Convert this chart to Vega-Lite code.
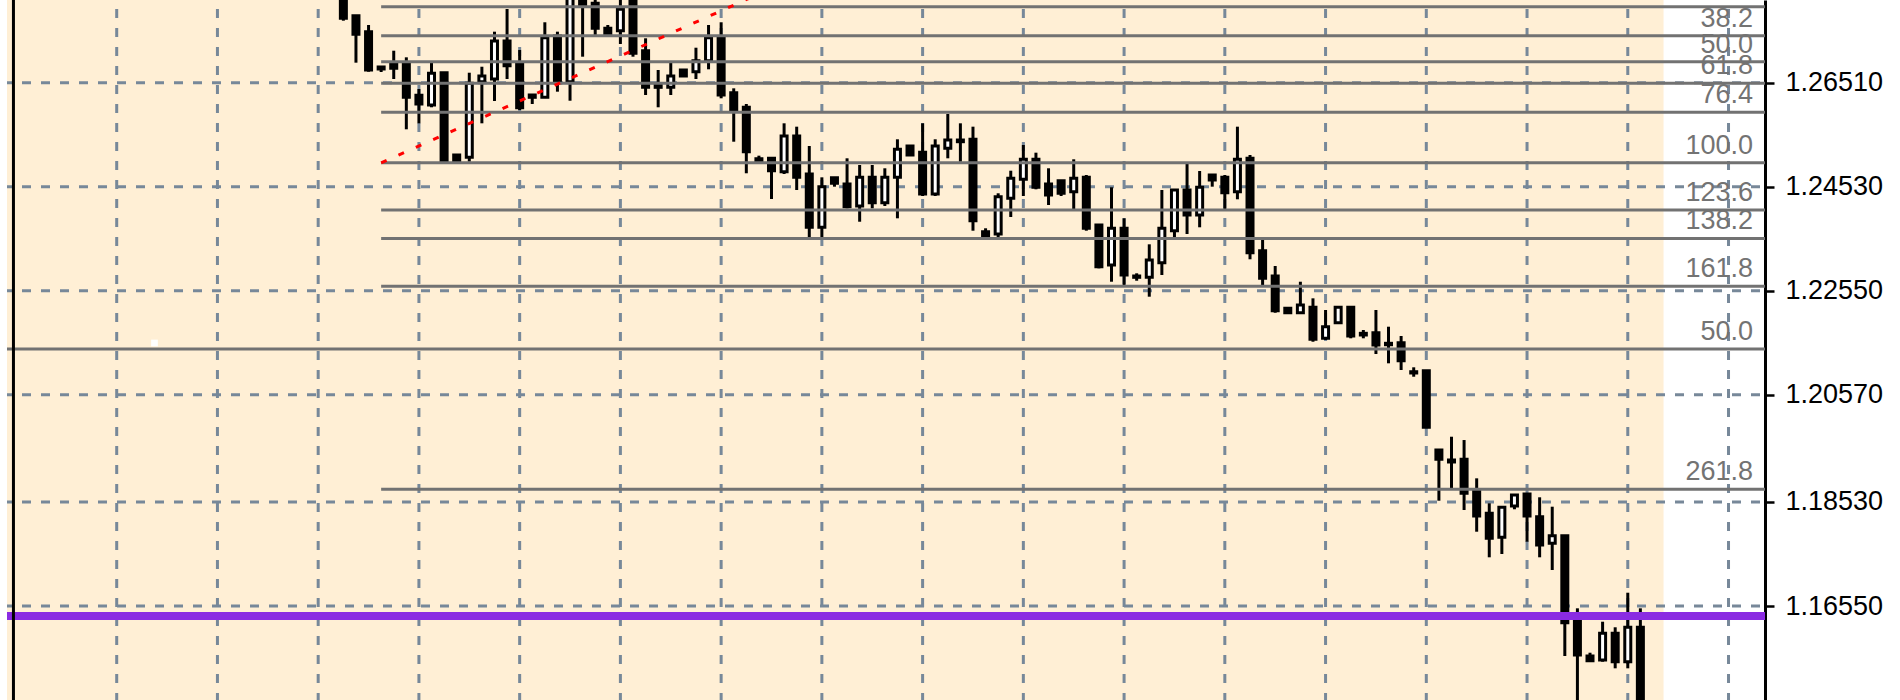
{
  "$schema": "https://vega.github.io/schema/vega-lite/v6.json",
  "width": 1758,
  "height": 700,
  "autosize": {"type": "none"},
  "padding": {"left": 7, "right": 135, "top": 0, "bottom": 0},
  "background": "white",
  "config": {
    "view": {"stroke": null},
    "axis": {"grid": false, "domainColor": "black", "domainWidth": 3, "tickColor": "black", "tickWidth": 2.5, "tickSize": 9,
      "labelFont": "Liberation Sans", "labelFontSize": 27, "labelColor": "black", "labelPadding": 11,
      "labelOverlap": false, "labelBound": false, "labelFlush": false}
  },
  "datasets": {
    "candles": [
      {"t":18,"o":1.28465,"h":1.28560,"l":1.27690,"c":1.27736},
      {"t":19,"o":1.27785,"h":1.27785,"l":1.26891,"c":1.27431},
      {"t":20,"o":1.27481,"h":1.27608,"l":1.26719,"c":1.26752},
      {"t":21,"o":1.26809,"h":1.26814,"l":1.26714,"c":1.26771},
      {"t":22,"o":1.26891,"h":1.27119,"l":1.26580,"c":1.26784},
      {"t":23,"o":1.26891,"h":1.26993,"l":1.25623,"c":1.26232},
      {"t":24,"o":1.26270,"h":1.26390,"l":1.25737,"c":1.26105},
      {"t":25,"o":1.26086,"h":1.26891,"l":1.26042,"c":1.26689},
      {"t":26,"o":1.26700,"h":1.26714,"l":1.25001,"c":1.25006},
      {"t":27,"o":1.25134,"h":1.25134,"l":1.25006,"c":1.25006},
      {"t":28,"o":1.25090,"h":1.26700,"l":1.25006,"c":1.26499},
      {"t":29,"o":1.26529,"h":1.26814,"l":1.25737,"c":1.26637},
      {"t":30,"o":1.26580,"h":1.27481,"l":1.26162,"c":1.27304},
      {"t":31,"o":1.27304,"h":1.27913,"l":1.26580,"c":1.26834},
      {"t":32,"o":1.26879,"h":1.27132,"l":1.25990,"c":1.26034},
      {"t":33,"o":1.26276,"h":1.26276,"l":1.26105,"c":1.26232},
      {"t":34,"o":1.26232,"h":1.27660,"l":1.26232,"c":1.27366},
      {"t":35,"o":1.27399,"h":1.27481,"l":1.26339,"c":1.26510},
      {"t":36,"o":1.26529,"h":1.28655,"l":1.26167,"c":1.28465},
      {"t":37,"o":1.28465,"h":1.28560,"l":1.27005,"c":1.27989},
      {"t":38,"o":1.28021,"h":1.28122,"l":1.27418,"c":1.27545},
      {"t":39,"o":1.27545,"h":1.27608,"l":1.27418,"c":1.27418},
      {"t":40,"o":1.27500,"h":1.28122,"l":1.27247,"c":1.27907},
      {"t":41,"o":1.28274,"h":1.28370,"l":1.27005,"c":1.27070},
      {"t":42,"o":1.27119,"h":1.27355,"l":1.26276,"c":1.26422},
      {"t":43,"o":1.26466,"h":1.26752,"l":1.26042,"c":1.26422},
      {"t":44,"o":1.26422,"h":1.26891,"l":1.26276,"c":1.26637},
      {"t":45,"o":1.26752,"h":1.26752,"l":1.26637,"c":1.26637},
      {"t":46,"o":1.26719,"h":1.27176,"l":1.26580,"c":1.26929},
      {"t":47,"o":1.26929,"h":1.27608,"l":1.26765,"c":1.27366},
      {"t":48,"o":1.27366,"h":1.27660,"l":1.26213,"c":1.26276},
      {"t":49,"o":1.26320,"h":1.26403,"l":1.25387,"c":1.25990},
      {"t":50,"o":1.26042,"h":1.26105,"l":1.24786,"c":1.25197},
      {"t":51,"o":1.25063,"h":1.25121,"l":1.25014,"c":1.25014},
      {"t":52,"o":1.25071,"h":1.25071,"l":1.24296,"c":1.24835},
      {"t":53,"o":1.24816,"h":1.25737,"l":1.24772,"c":1.25496},
      {"t":54,"o":1.25496,"h":1.25673,"l":1.24468,"c":1.24709},
      {"t":55,"o":1.24772,"h":1.25305,"l":1.23548,"c":1.23758},
      {"t":56,"o":1.23758,"h":1.24709,"l":1.23548,"c":1.24531},
      {"t":57,"o":1.24702,"h":1.24702,"l":1.24531,"c":1.24595},
      {"t":58,"o":1.24582,"h":1.25071,"l":1.24119,"c":1.24150},
      {"t":59,"o":1.24163,"h":1.24944,"l":1.23864,"c":1.24709},
      {"t":60,"o":1.24709,"h":1.24944,"l":1.24119,"c":1.24226},
      {"t":61,"o":1.24226,"h":1.24881,"l":1.24163,"c":1.24709},
      {"t":62,"o":1.24709,"h":1.25433,"l":1.23929,"c":1.25242},
      {"t":63,"o":1.25305,"h":1.25305,"l":1.25134,"c":1.25134},
      {"t":64,"o":1.25185,"h":1.25737,"l":1.24354,"c":1.24392},
      {"t":65,"o":1.24392,"h":1.25433,"l":1.24354,"c":1.25305},
      {"t":66,"o":1.25261,"h":1.25914,"l":1.25071,"c":1.25419},
      {"t":67,"o":1.25419,"h":1.25737,"l":1.25006,"c":1.25387},
      {"t":68,"o":1.25433,"h":1.25673,"l":1.23693,"c":1.23883},
      {"t":69,"o":1.23674,"h":1.23739,"l":1.23567,"c":1.23567},
      {"t":70,"o":1.23630,"h":1.24405,"l":1.23567,"c":1.24340},
      {"t":71,"o":1.24310,"h":1.24835,"l":1.23954,"c":1.24690},
      {"t":72,"o":1.24671,"h":1.25324,"l":1.24354,"c":1.25052},
      {"t":73,"o":1.25052,"h":1.25178,"l":1.24481,"c":1.24519},
      {"t":74,"o":1.24582,"h":1.24881,"l":1.24182,"c":1.24373},
      {"t":75,"o":1.24645,"h":1.24645,"l":1.24354,"c":1.24405},
      {"t":76,"o":1.24435,"h":1.25052,"l":1.24100,"c":1.24690},
      {"t":77,"o":1.24709,"h":1.24753,"l":1.23693,"c":1.23739},
      {"t":78,"o":1.23802,"h":1.23802,"l":1.22977,"c":1.23008},
      {"t":79,"o":1.23040,"h":1.24519,"l":1.22722,"c":1.23739},
      {"t":80,"o":1.23739,"h":1.23929,"l":1.22660,"c":1.22850},
      {"t":81,"o":1.22831,"h":1.22882,"l":1.22741,"c":1.22806},
      {"t":82,"o":1.22806,"h":1.23434,"l":1.22437,"c":1.23135},
      {"t":83,"o":1.23084,"h":1.24468,"l":1.22850,"c":1.23739},
      {"t":84,"o":1.23693,"h":1.24468,"l":1.23567,"c":1.24468},
      {"t":85,"o":1.24468,"h":1.24963,"l":1.23630,"c":1.23992},
      {"t":86,"o":1.23992,"h":1.24829,"l":1.23758,"c":1.24519},
      {"t":87,"o":1.24753,"h":1.24753,"l":1.24531,"c":1.24658},
      {"t":88,"o":1.24709,"h":1.24753,"l":1.24100,"c":1.24416},
      {"t":89,"o":1.24435,"h":1.25673,"l":1.24291,"c":1.25052},
      {"t":90,"o":1.25071,"h":1.25134,"l":1.23149,"c":1.23274},
      {"t":91,"o":1.23312,"h":1.23516,"l":1.22660,"c":1.22787},
      {"t":92,"o":1.22831,"h":1.23021,"l":1.22132,"c":1.22170},
      {"t":93,"o":1.22216,"h":1.22216,"l":1.22132,"c":1.22132},
      {"t":94,"o":1.22132,"h":1.22722,"l":1.22132,"c":1.22279},
      {"t":95,"o":1.22235,"h":1.22406,"l":1.21580,"c":1.21626},
      {"t":96,"o":1.21645,"h":1.22184,"l":1.21613,"c":1.21866},
      {"t":97,"o":1.21942,"h":1.22235,"l":1.21942,"c":1.22235},
      {"t":98,"o":1.22235,"h":1.22235,"l":1.21645,"c":1.21689},
      {"t":99,"o":1.21740,"h":1.21803,"l":1.21645,"c":1.21708},
      {"t":100,"o":1.21752,"h":1.22184,"l":1.21346,"c":1.21518},
      {"t":101,"o":1.21550,"h":1.21866,"l":1.21169,"c":1.21523},
      {"t":102,"o":1.21561,"h":1.21689,"l":1.21042,"c":1.21219},
      {"t":103,"o":1.21009,"h":1.21093,"l":1.20914,"c":1.20985},
      {"t":104,"o":1.21028,"h":1.21028,"l":1.19951,"c":1.19951},
      {"t":105,"o":1.19519,"h":1.19519,"l":1.18554,"c":1.19342},
      {"t":106,"o":1.19329,"h":1.19772,"l":1.18790,"c":1.19291},
      {"t":107,"o":1.19342,"h":1.19709,"l":1.18377,"c":1.18695},
      {"t":108,"o":1.18745,"h":1.18980,"l":1.17964,"c":1.18263},
      {"t":109,"o":1.18314,"h":1.18505,"l":1.17477,"c":1.17839},
      {"t":110,"o":1.17858,"h":1.18429,"l":1.17540,"c":1.18429},
      {"t":111,"o":1.18453,"h":1.18663,"l":1.18391,"c":1.18663},
      {"t":112,"o":1.18682,"h":1.18682,"l":1.17774,"c":1.18263},
      {"t":113,"o":1.18250,"h":1.18619,"l":1.17477,"c":1.17711},
      {"t":114,"o":1.17743,"h":1.18440,"l":1.17235,"c":1.17888},
      {"t":115,"o":1.17888,"h":1.17888,"l":1.15598,"c":1.16232},
      {"t":116,"o":1.16270,"h":1.16506,"l":1.14000,"c":1.15617},
      {"t":117,"o":1.15598,"h":1.15661,"l":1.15509,"c":1.15509},
      {"t":118,"o":1.15522,"h":1.16251,"l":1.15490,"c":1.16030},
      {"t":119,"o":1.16030,"h":1.16145,"l":1.15364,"c":1.15490},
      {"t":120,"o":1.15490,"h":1.16803,"l":1.15364,"c":1.16145},
      {"t":121,"o":1.16145,"h":1.16506,"l":1.13619,"c":1.14000}
    ],
    "hgrid": [{"p":1.2651},{"p":1.2453},{"p":1.2255},{"p":1.2057},{"p":1.1853},{"p":1.1655}],
    "vgrid": [{"t":0},{"t":8},{"t":16},{"t":24},{"t":32},{"t":40},{"t":48},{"t":56},{"t":64},{"t":72},{"t":80},{"t":88},{"t":96},{"t":104},{"t":112},{"t":120},{"t":128}],
    "fibo": [
      {"label":"23.6","p":1.27956,"from":21},
      {"label":"38.2","p":1.27405,"from":21},
      {"label":"50.0","p":1.26910,"from":21},
      {"label":"61.8","p":1.26499,"from":21},
      {"label":"76.4","p":1.25947,"from":21},
      {"label":"100.0","p":1.24985,"from":21},
      {"label":"123.6","p":1.24087,"from":21},
      {"label":"138.2","p":1.23545,"from":21},
      {"label":"161.8","p":1.22635,"from":21},
      {"label":"261.8","p":1.18773,"from":21},
      {"label":"50.0","p":1.21441,"from":-10}
    ]
  },
  "layer": [
    {
      "data": {"values": [{"t0": -10, "t1": 122.84, "p0": 1.14, "p1": 1.29}]},
      "mark": {"type": "rect", "fill": "#FFEFD5", "clip": true},
      "encoding": {
        "x": {"field": "t0", "type": "quantitative", "scale": {"domain": [-8.315, 130.5], "nice": false, "zero": false}, "axis": null},
        "x2": {"field": "t1"},
        "y": {"field": "p0", "type": "quantitative", "scale": {"domain": [1.14761, 1.28084], "nice": false, "zero": false},
          "axis": {"orient": "right", "values": [1.2651, 1.2453, 1.2255, 1.2057, 1.1853, 1.1655, 1.1457], "format": ".5f", "title": null}},
        "y2": {"field": "p1"}
      }
    },
    {
      "data": {"name": "hgrid"},
      "mark": {"type": "rule", "color": "#778899", "strokeWidth": 3, "strokeDash": [9, 10], "strokeDashOffset": 14},
      "encoding": {
        "y": {"field": "p", "type": "quantitative", "scale": {"domain": [1.14761, 1.28084], "nice": false, "zero": false},
          "axis": {"orient": "right", "values": [1.2651, 1.2453, 1.2255, 1.2057, 1.1853, 1.1655, 1.1457], "format": ".5f", "title": null}}
      }
    },
    {
      "data": {"name": "vgrid"},
      "mark": {"type": "rule", "color": "#778899", "strokeWidth": 3, "strokeDash": [9, 10], "strokeDashOffset": 10},
      "encoding": {
        "x": {"field": "t", "type": "quantitative", "scale": {"domain": [-8.315, 130.5], "nice": false, "zero": false}, "axis": null}
      }
    },
    {
      "data": {"name": "candles"},
      "mark": {"type": "rule", "color": "black", "strokeWidth": 3, "clip": true},
      "encoding": {
        "x": {"field": "t", "type": "quantitative", "scale": {"domain": [-8.315, 130.5], "nice": false, "zero": false}, "axis": null},
        "y": {"field": "l", "type": "quantitative", "scale": {"domain": [1.14761, 1.28084], "nice": false, "zero": false},
          "axis": {"orient": "right", "values": [1.2651, 1.2453, 1.2255, 1.2057, 1.1853, 1.1655, 1.1457], "format": ".5f", "title": null}},
        "y2": {"field": "h"}
      }
    },
    {
      "data": {"name": "candles"},
      "mark": {"type": "bar", "size": 6, "stroke": "black", "strokeWidth": 3, "clip": true, "orient": "vertical"},
      "encoding": {
        "x": {"field": "t", "type": "quantitative", "scale": {"domain": [-8.315, 130.5], "nice": false, "zero": false}, "axis": null},
        "y": {"field": "o", "type": "quantitative", "scale": {"domain": [1.14761, 1.28084], "nice": false, "zero": false},
          "axis": {"orient": "right", "values": [1.2651, 1.2453, 1.2255, 1.2057, 1.1853, 1.1655, 1.1457], "format": ".5f", "title": null}},
        "y2": {"field": "c"},
        "fill": {"condition": {"test": "datum.c > datum.o", "value": "white"}, "value": "black"}
      }
    },
    {
      "data": {"name": "fibo"},
      "mark": {"type": "rule", "color": "#727272", "strokeWidth": 3, "clip": true},
      "encoding": {
        "x": {"field": "from", "type": "quantitative", "scale": {"domain": [-8.315, 130.5], "nice": false, "zero": false}, "axis": null},
        "x2": {"datum": 131},
        "y": {"field": "p", "type": "quantitative", "scale": {"domain": [1.14761, 1.28084], "nice": false, "zero": false},
          "axis": {"orient": "right", "values": [1.2651, 1.2453, 1.2255, 1.2057, 1.1853, 1.1655, 1.1457], "format": ".5f", "title": null}}
      }
    },
    {
      "data": {"values": [{"p": 1.1636}]},
      "mark": {"type": "rule", "color": "#8A2BE2", "strokeWidth": 8},
      "encoding": {
        "y": {"field": "p", "type": "quantitative", "scale": {"domain": [1.14761, 1.28084], "nice": false, "zero": false},
          "axis": {"orient": "right", "values": [1.2651, 1.2453, 1.2255, 1.2057, 1.1853, 1.1655, 1.1457], "format": ".5f", "title": null}}
      }
    },
    {
      "data": {"values": [{"t0": 21, "p0": 1.24985, "t1": 56.8, "p1": 1.28821}]},
      "mark": {"type": "rule", "color": "#FF0000", "strokeWidth": 3, "strokeDash": [6, 13], "clip": true},
      "encoding": {
        "x": {"field": "t0", "type": "quantitative", "scale": {"domain": [-8.315, 130.5], "nice": false, "zero": false}, "axis": null},
        "x2": {"field": "t1"},
        "y": {"field": "p0", "type": "quantitative", "scale": {"domain": [1.14761, 1.28084], "nice": false, "zero": false},
          "axis": {"orient": "right", "values": [1.2651, 1.2453, 1.2255, 1.2057, 1.1853, 1.1655, 1.1457], "format": ".5f", "title": null}},
        "y2": {"field": "p1"}
      }
    },
    {
      "data": {"name": "fibo"},
      "transform": [{"filter": "datum.label != '23.6'"}],
      "mark": {"type": "text", "align": "right", "baseline": "alphabetic", "dy": -9, "font": "Liberation Sans", "fontSize": 27, "color": "#737373"},
      "encoding": {
        "x": {"datum": 129.95, "type": "quantitative", "scale": {"domain": [-8.315, 130.5], "nice": false, "zero": false}, "axis": null},
        "y": {"field": "p", "type": "quantitative", "scale": {"domain": [1.14761, 1.28084], "nice": false, "zero": false},
          "axis": {"orient": "right", "values": [1.2651, 1.2453, 1.2255, 1.2057, 1.1853, 1.1655, 1.1457], "format": ".5f", "title": null}},
        "text": {"field": "label"}
      }
    },
    {
      "data": {"values": [{"t": 3, "p": 1.21556}]},
      "mark": {"type": "square", "color": "white", "size": 45, "opacity": 1},
      "encoding": {
        "x": {"field": "t", "type": "quantitative", "scale": {"domain": [-8.315, 130.5], "nice": false, "zero": false}, "axis": null},
        "y": {"field": "p", "type": "quantitative", "scale": {"domain": [1.14761, 1.28084], "nice": false, "zero": false},
          "axis": {"orient": "right", "values": [1.2651, 1.2453, 1.2255, 1.2057, 1.1853, 1.1655, 1.1457], "format": ".5f", "title": null}}
      }
    },
    {
      "data": {"values": [{}]},
      "mark": {"type": "rule", "color": "black", "strokeWidth": 3},
      "encoding": {
        "x": {"datum": -8.2, "type": "quantitative", "scale": {"domain": [-8.315, 130.5], "nice": false, "zero": false}, "axis": null}
      }
    }
  ]
}
